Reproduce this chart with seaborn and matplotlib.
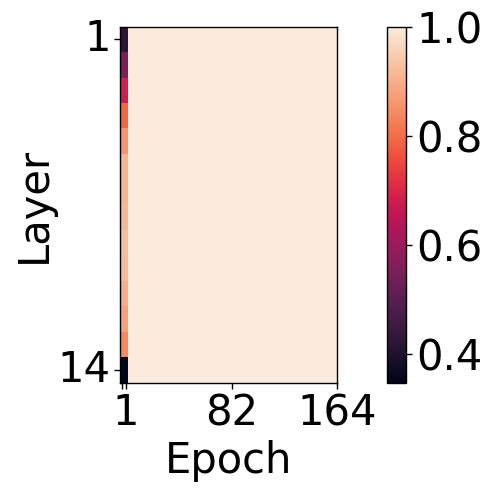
import numpy as np
import seaborn as sns
import matplotlib.pyplot as plt

# similarity per layer (rows) in the first epochs, everything after is 1.0
layer_vals = [0.42, 0.55, 0.68, 0.79, 0.86, 0.91, 0.91, 0.915, 0.925, 0.92, 0.90, 0.88, 0.84, 0.347]
n_layers = 14
n_epochs = 164
n_warm = 6  # columns that still differ from the final state

xtick_pos = [1.5, 4.1, 84.3, 164]
xtick_lab = ['', '1', '82', '164']
ytick_lab = ['1', '14']

mat = np.ones((n_layers, n_epochs))
mat[:, :n_warm] = np.array(layer_vals)[:, None]

fig = plt.figure(figsize=(4.91, 4.91), dpi=100)
W = 491.0
ax = fig.add_axes([120.3 / W, 1 - 382.7 / W, 216.6 / W, 356 / W])
cax = fig.add_axes([387.3 / W, 1 - 382.7 / W, 18.4 / W, 356 / W])

sns.heatmap(mat, ax=ax, cbar_ax=cax, cmap='rocket', vmin=min(layer_vals), vmax=1.0)

for s in ax.spines.values():
    s.set_visible(True)
    s.set_linewidth(1)
    s.set_color('black')

ax.set_xticks(xtick_pos)
ax.set_xticklabels(xtick_lab, rotation=0, fontsize=30)
ax.set_yticks([0.5, n_layers - 0.5])
ax.set_yticklabels(ytick_lab, rotation=0, fontsize=30)
ax.tick_params(length=4, width=1, pad=3)
ax.set_xlabel('Epoch', fontsize=30, labelpad=4)
ax.set_ylabel('Layer', fontsize=30, labelpad=2)

cb = ax.collections[0].colorbar
cb.set_ticks([0.4, 0.6, 0.8, 1.0])
cb.set_ticklabels(['0.4', '0.6', '0.8', '1.0'])
cb.ax.tick_params(labelsize=30, length=4, width=1)
cb.outline.set_visible(True)
cb.outline.set_linewidth(1)
cb.outline.set_edgecolor('black')

fig.savefig('out.png', dpi=100)
